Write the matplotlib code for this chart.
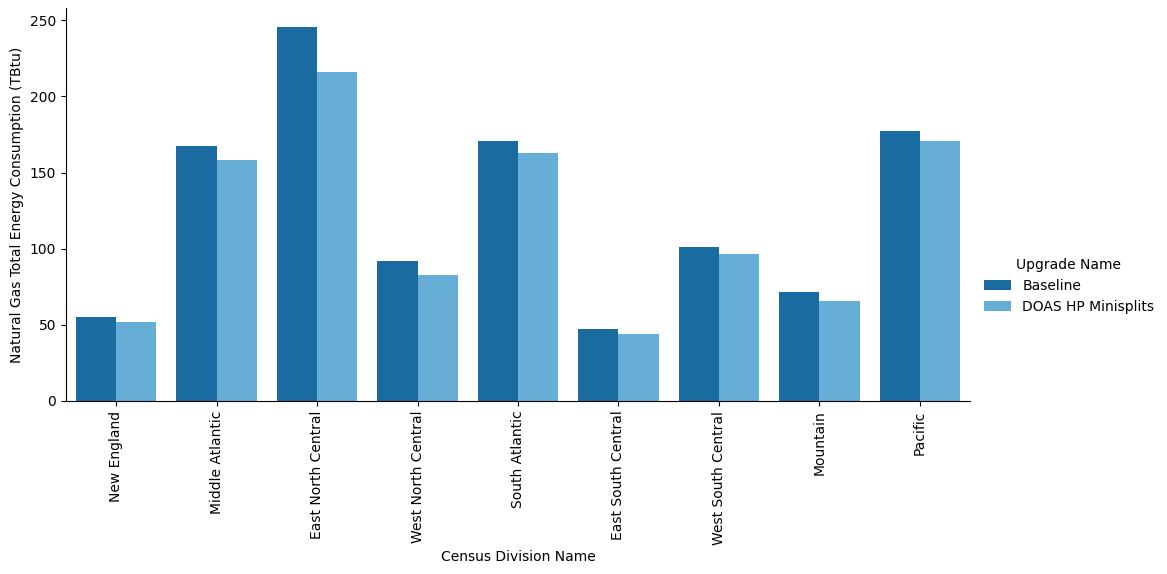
import matplotlib
matplotlib.use("Agg")
import matplotlib.pyplot as plt
import numpy as np

categories = ["New England", "Middle Atlantic", "East North Central", "West North Central",
              "South Atlantic", "East South Central", "West South Central", "Mountain", "Pacific"]
baseline = [55.3, 167.1, 245.4, 92.1, 171.0, 47.4, 101.3, 71.7, 177.0]
doas = [52.0, 157.9, 215.8, 82.9, 162.5, 44.1, 96.7, 65.8, 171.0]
series_names = ["Baseline", "DOAS HP Minisplits"]
colors = ["#1a6b9f", "#67aed6"]

fig = plt.figure(figsize=(11.67, 5.74), dpi=100)
ax = fig.add_axes([66/1167, 1 - 401/574, (970-66)/1167, (401-8)/574])

x = np.arange(len(categories))
w = 0.4
ax.bar(x - w/2, baseline, w, color=colors[0], label=series_names[0])
ax.bar(x + w/2, doas, w, color=colors[1], label=series_names[1])

ax.set_xlim(-0.5, len(categories) - 0.5)
ax.set_ylim(0, 258)
ax.set_xticks(x)
ax.set_xticklabels(categories, rotation=90)
ax.set_xlabel("Census Division Name")
ax.set_ylabel("Natural Gas Total Energy Consumption (TBtu)")
ax.spines["top"].set_visible(False)
ax.spines["right"].set_visible(False)

leg = fig.legend(loc="center left", bbox_to_anchor=(971/1167, 1 - 286/574), frameon=False,
                 title="Upgrade Name")

fig.savefig("out.png", dpi=100)
